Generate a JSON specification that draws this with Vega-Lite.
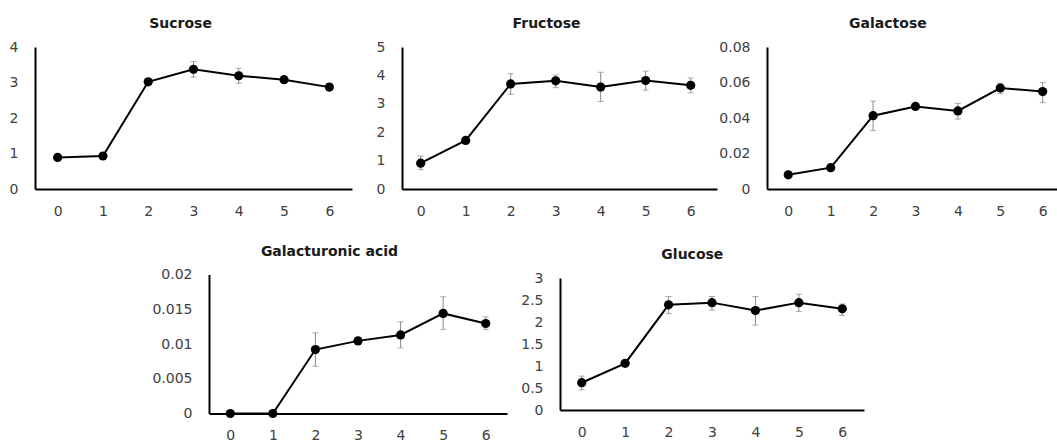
{
  "$schema": "https://vega.github.io/schema/vega-lite/v6.json",
  "background": "white",
  "padding": {"left": 9, "top": 17, "right": 0, "bottom": 0},
  "datasets": {
    "sugars": [
      {"sugar": "Sucrose", "day": 0, "mean": 0.89, "lo": 0.85, "hi": 0.93},
      {"sugar": "Sucrose", "day": 1, "mean": 0.93, "lo": 0.89, "hi": 0.97},
      {"sugar": "Sucrose", "day": 2, "mean": 3.02, "lo": 2.96, "hi": 3.08},
      {"sugar": "Sucrose", "day": 3, "mean": 3.37, "lo": 3.15, "hi": 3.59},
      {"sugar": "Sucrose", "day": 4, "mean": 3.19, "lo": 2.98, "hi": 3.4},
      {"sugar": "Sucrose", "day": 5, "mean": 3.08, "lo": 3.02, "hi": 3.14},
      {"sugar": "Sucrose", "day": 6, "mean": 2.87, "lo": 2.82, "hi": 2.92},
      {"sugar": "Fructose", "day": 0, "mean": 0.91, "lo": 0.68, "hi": 1.16},
      {"sugar": "Fructose", "day": 1, "mean": 1.71, "lo": 1.65, "hi": 1.77},
      {"sugar": "Fructose", "day": 2, "mean": 3.7, "lo": 3.33, "hi": 4.06},
      {"sugar": "Fructose", "day": 3, "mean": 3.81, "lo": 3.57, "hi": 4.01},
      {"sugar": "Fructose", "day": 4, "mean": 3.59, "lo": 3.08, "hi": 4.11},
      {"sugar": "Fructose", "day": 5, "mean": 3.82, "lo": 3.48, "hi": 4.15},
      {"sugar": "Fructose", "day": 6, "mean": 3.65, "lo": 3.39, "hi": 3.91},
      {"sugar": "Galactose", "day": 0, "mean": 0.008, "lo": 0.007, "hi": 0.009},
      {"sugar": "Galactose", "day": 1, "mean": 0.012, "lo": 0.0113, "hi": 0.0127},
      {"sugar": "Galactose", "day": 2, "mean": 0.0413, "lo": 0.0329, "hi": 0.0495},
      {"sugar": "Galactose", "day": 3, "mean": 0.0465, "lo": 0.0455, "hi": 0.0475},
      {"sugar": "Galactose", "day": 4, "mean": 0.044, "lo": 0.0394, "hi": 0.0482},
      {"sugar": "Galactose", "day": 5, "mean": 0.0569, "lo": 0.0537, "hi": 0.0596},
      {"sugar": "Galactose", "day": 6, "mean": 0.0549, "lo": 0.0487, "hi": 0.06},
      {"sugar": "Galacturonic acid", "day": 0, "mean": 0, "lo": 0, "hi": 0},
      {"sugar": "Galacturonic acid", "day": 1, "mean": 0, "lo": 0, "hi": 0},
      {"sugar": "Galacturonic acid", "day": 2, "mean": 0.0092, "lo": 0.0068, "hi": 0.0116},
      {"sugar": "Galacturonic acid", "day": 3, "mean": 0.01045, "lo": 0.0102, "hi": 0.0107},
      {"sugar": "Galacturonic acid", "day": 4, "mean": 0.0113, "lo": 0.00944, "hi": 0.0132},
      {"sugar": "Galacturonic acid", "day": 5, "mean": 0.0144, "lo": 0.0121, "hi": 0.0168},
      {"sugar": "Galacturonic acid", "day": 6, "mean": 0.01295, "lo": 0.0121, "hi": 0.0139},
      {"sugar": "Glucose", "day": 0, "mean": 0.62, "lo": 0.46, "hi": 0.77},
      {"sugar": "Glucose", "day": 1, "mean": 1.06, "lo": 1.01, "hi": 1.11},
      {"sugar": "Glucose", "day": 2, "mean": 2.39, "lo": 2.19, "hi": 2.58},
      {"sugar": "Glucose", "day": 3, "mean": 2.44, "lo": 2.27, "hi": 2.58},
      {"sugar": "Glucose", "day": 4, "mean": 2.26, "lo": 1.93, "hi": 2.58},
      {"sugar": "Glucose", "day": 5, "mean": 2.44, "lo": 2.24, "hi": 2.63},
      {"sugar": "Glucose", "day": 6, "mean": 2.3, "lo": 2.15, "hi": 2.41}
    ]
  },
  "data": {"name": "sugars"},
  "spacing": 26.5,
  "vconcat": [
    {
      "bounds": "flush",
      "spacing": 50,
      "hconcat": [
        {
          "title": "Sucrose",
          "width": 317,
          "height": 142,
          "transform": [{"filter": "datum.sugar === 'Sucrose'"}],
          "encoding": {
            "x": {"field": "day", "type": "quantitative", "title": null,
                  "scale": {"domain": [-0.5, 6.5], "nice": false, "zero": false},
                  "axis": {"values": [0, 1, 2, 3, 4, 5, 6], "format": "d", "tickCount": 20}}
          },
          "layer": [
            {
              "mark": {"type": "errorbar", "ticks": {"size": 6, "color": "#8a8a8a", "thickness": 1}, "rule": {"color": "#8a8a8a", "strokeWidth": 1}},
              "encoding": {
                "y": {"field": "lo", "type": "quantitative", "title": null, "scale": {"domain": [0, 4], "nice": false}, "axis": {"values": [0, 1, 2, 3, 4], "format": "~g", "tickCount": 20}},
                "y2": {"field": "hi"}
              }
            },
            {"mark": {"type": "line", "color": "black", "strokeWidth": 2}, "encoding": {"y": {"field": "mean", "type": "quantitative", "title": null}}},
            {"mark": {"type": "point", "filled": true, "color": "black", "opacity": 1, "size": 85}, "encoding": {"y": {"field": "mean", "type": "quantitative", "title": null}}}
          ]
        },
        {
          "title": "Fructose",
          "width": 315,
          "height": 142,
          "transform": [{"filter": "datum.sugar === 'Fructose'"}],
          "encoding": {
            "x": {"field": "day", "type": "quantitative", "title": null,
                  "scale": {"domain": [-0.415, 6.585], "nice": false, "zero": false},
                  "axis": {"values": [0, 1, 2, 3, 4, 5, 6], "format": "d", "tickCount": 20}}
          },
          "layer": [
            {
              "mark": {"type": "errorbar", "ticks": {"size": 6, "color": "#8a8a8a", "thickness": 1}, "rule": {"color": "#8a8a8a", "strokeWidth": 1}},
              "encoding": {
                "y": {"field": "lo", "type": "quantitative", "title": null, "scale": {"domain": [0, 5], "nice": false}, "axis": {"values": [0, 1, 2, 3, 4, 5], "format": "~g", "tickCount": 20}},
                "y2": {"field": "hi"}
              }
            },
            {"mark": {"type": "line", "color": "black", "strokeWidth": 2}, "encoding": {"y": {"field": "mean", "type": "quantitative", "title": null}}},
            {"mark": {"type": "point", "filled": true, "color": "black", "opacity": 1, "size": 85}, "encoding": {"y": {"field": "mean", "type": "quantitative", "title": null}}}
          ]
        },
        {
          "title": "Galactose",
          "width": 290,
          "height": 142,
          "transform": [{"filter": "datum.sugar === 'Galactose'"}],
          "encoding": {
            "x": {"field": "day", "type": "quantitative", "title": null,
                  "scale": {"domain": [-0.502, 6.338], "nice": false, "zero": false},
                  "axis": {"values": [0, 1, 2, 3, 4, 5, 6], "format": "d", "tickCount": 20}}
          },
          "layer": [
            {
              "mark": {"type": "errorbar", "ticks": {"size": 6, "color": "#8a8a8a", "thickness": 1}, "rule": {"color": "#8a8a8a", "strokeWidth": 1}},
              "encoding": {
                "y": {"field": "lo", "type": "quantitative", "title": null, "scale": {"domain": [0, 0.08], "nice": false}, "axis": {"values": [0, 0.02, 0.04, 0.06, 0.08], "format": "~g", "tickCount": 20}},
                "y2": {"field": "hi"}
              }
            },
            {"mark": {"type": "line", "color": "black", "strokeWidth": 2}, "encoding": {"y": {"field": "mean", "type": "quantitative", "title": null}}},
            {"mark": {"type": "point", "filled": true, "color": "black", "opacity": 1, "size": 85}, "encoding": {"y": {"field": "mean", "type": "quantitative", "title": null}}}
          ]
        }
      ]
    },
    {
      "bounds": "flush",
      "spacing": 53,
      "center": true,
      "hconcat": [
        {
          "width": 121,
          "height": 139,
          "data": {"values": []},
          "mark": {"type": "point", "opacity": 0},
          "encoding": {}
        },
        {
          "title": "Galacturonic acid",
          "width": 298,
          "height": 139,
          "transform": [{"filter": "datum.sugar === 'Galacturonic acid'"}],
          "encoding": {
            "x": {"field": "day", "type": "quantitative", "title": null,
                  "scale": {"domain": [-0.5, 6.5], "nice": false, "zero": false},
                  "axis": {"values": [0, 1, 2, 3, 4, 5, 6], "format": "d", "tickCount": 20}}
          },
          "layer": [
            {
              "mark": {"type": "errorbar", "ticks": {"size": 6, "color": "#8a8a8a", "thickness": 1}, "rule": {"color": "#8a8a8a", "strokeWidth": 1}},
              "encoding": {
                "y": {"field": "lo", "type": "quantitative", "title": null, "scale": {"domain": [0, 0.02], "nice": false}, "axis": {"values": [0, 0.005, 0.01, 0.015, 0.02], "format": "~g", "tickCount": 20}},
                "y2": {"field": "hi"}
              }
            },
            {"mark": {"type": "line", "color": "black", "strokeWidth": 2}, "encoding": {"y": {"field": "mean", "type": "quantitative", "title": null}}},
            {"mark": {"type": "point", "filled": true, "color": "black", "opacity": 1, "size": 85}, "encoding": {"y": {"field": "mean", "type": "quantitative", "title": null}}}
          ]
        },
        {
          "title": "Glucose",
          "width": 304,
          "height": 132,
          "transform": [{"filter": "datum.sugar === 'Glucose'"}],
          "encoding": {
            "x": {"field": "day", "type": "quantitative", "title": null,
                  "scale": {"domain": [-0.5, 6.5], "nice": false, "zero": false},
                  "axis": {"values": [0, 1, 2, 3, 4, 5, 6], "format": "d", "tickCount": 20}}
          },
          "layer": [
            {
              "mark": {"type": "errorbar", "ticks": {"size": 6, "color": "#8a8a8a", "thickness": 1}, "rule": {"color": "#8a8a8a", "strokeWidth": 1}},
              "encoding": {
                "y": {"field": "lo", "type": "quantitative", "title": null, "scale": {"domain": [0, 3], "nice": false}, "axis": {"values": [0, 0.5, 1, 1.5, 2, 2.5, 3], "format": "~g", "tickCount": 20}},
                "y2": {"field": "hi"}
              }
            },
            {"mark": {"type": "line", "color": "black", "strokeWidth": 2}, "encoding": {"y": {"field": "mean", "type": "quantitative", "title": null}}},
            {"mark": {"type": "point", "filled": true, "color": "black", "opacity": 1, "size": 85}, "encoding": {"y": {"field": "mean", "type": "quantitative", "title": null}}}
          ]
        }
      ]
    }
  ],
  "config": {
    "view": {"stroke": null},
    "font": "DejaVu Sans",
    "axis": {
      "domainColor": "black",
      "domainWidth": 2,
      "ticks": false,
      "tickSize": 0,
      "grid": false,
      "labelFont": "DejaVu Sans",
      "labelFontSize": 14,
      "labelColor": "#404040",
      "labelOverlap": false,
      "labelBound": false
    },
    "axisX": {"labelPadding": 15},
    "axisY": {"labelPadding": 17},
    "title": {
      "font": "DejaVu Sans",
      "fontSize": 14,
      "fontWeight": "bold",
      "color": "#1a1a1a",
      "anchor": "middle",
      "frame": "bounds",
      "offset": 9
    }
  }
}
